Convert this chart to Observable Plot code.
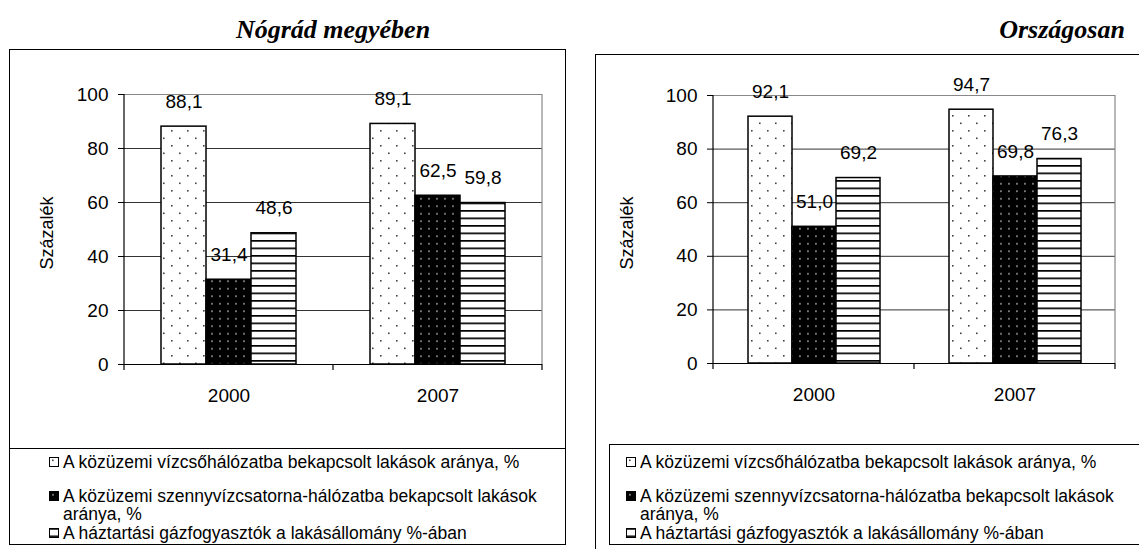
<!DOCTYPE html>
<html>
<head>
<meta charset="utf-8">
<script src="https://cdn.jsdelivr.net/npm/d3@7"></script>
<script src="https://cdn.jsdelivr.net/npm/@observablehq/plot@0.6"></script>
<style>
  body { margin: 0; background: #fff; }
  #root { position: relative; width: 1139px; height: 549px; overflow: hidden; font-family: "Liberation Sans", Arial, sans-serif; color: #000; }
  .title { position: absolute; font-family: "Liberation Serif", "Times New Roman", serif; font-weight: bold; font-style: italic; font-size: 26px; line-height: 26px; transform: translateX(-50%); white-space: nowrap; }
  .box { position: absolute; border: 1px solid #000; box-sizing: border-box; }
  .ylab { position: absolute; font-size: 18px; line-height: 18px; transform: translate(-50%, -50%) rotate(-90deg); white-space: nowrap; }
  .chart { position: absolute; top: 0; }
  .legend { position: absolute; overflow: hidden; }
  .item { position: absolute; font-size: 17.5px; line-height: 18px; }
  .item svg { position: absolute; left: -14px; top: 4px; }
</style>
</head>
<body>
<svg width="0" height="0" style="position:absolute">
  <defs>
    <pattern id="p0" patternUnits="userSpaceOnUse" width="16" height="15">
      <rect width="16" height="15" fill="#fff"/>
      <rect x="3" y="2.5" width="1.6" height="1.6" fill="#444"/>
      <rect x="11" y="10" width="1.6" height="1.6" fill="#444"/>
    </pattern>
    <pattern id="p1" patternUnits="userSpaceOnUse" width="8" height="7.5">
      <rect width="8" height="7.5" fill="#000"/>
      <rect x="3.2" y="3" width="1.5" height="1.5" fill="#bbb"/>
    </pattern>
    <pattern id="p2" patternUnits="userSpaceOnUse" width="10" height="7.5">
      <rect width="10" height="7.5" fill="#fff"/>
      <rect x="0" y="0" width="10" height="1.7" fill="#000"/>
    </pattern>
  </defs>
</svg>
<div id="root"></div>
<script>
// ---------- data ----------
const years = ["2000", "2007"];
const series = [
  "A közüzemi vízcsőhálózatba bekapcsolt lakások aránya, %",
  "A közüzemi szennyvízcsatorna-hálózatba bekapcsolt lakások aránya, %",
  "A háztartási gázfogyasztók a lakásállomány %-ában"
];
const nogradWater = [88.1, 89.1];
const nogradSewer = [31.4, 62.5];
const nogradGas   = [48.6, 59.8];
const orszagWater = [92.1, 94.7];
const orszagSewer = [51.0, 69.8];
const orszagGas   = [69.2, 76.3];
const yTicks = [0, 20, 40, 60, 80, 100];
const titles = ["Nógrád megyében", "Országosan"];
const yLabel = "Százalék";
const patterns = ["url(#p0)", "url(#p1)", "url(#p2)"];

function rowsFrom(lists) {
  const rows = [];
  years.forEach((yr, i) => series.forEach((s, j) => rows.push({year: yr, series: s, value: lists[j][i]})));
  return rows;
}
const fmt = v => v.toFixed(1).replace(".", ",");

function makeChart(rows, o) {
  const chart = Plot.plot({
    width: o.width, height: o.height,
    marginLeft: o.ml, marginRight: o.mr, marginTop: o.mt, marginBottom: o.mb,
    style: {fontFamily: "Liberation Sans, Arial, sans-serif", fontSize: "19px", color: "#000", background: "transparent", overflow: "visible"},
    facet: {data: rows, x: "year"},
    fx: {domain: years, padding: 0, label: null, axis: "bottom", tickSize: 0, tickPadding: 24},
    x: {domain: series, paddingInner: 0, paddingOuter: 0.772, axis: null},
    y: {domain: [0, 100], ticks: yTicks, tickSize: 6, tickPadding: 10, label: null},
    color: {domain: series, range: patterns},
    marks: [
      Plot.ruleY(yTicks.filter(t => t > 0 && t < 100), {stroke: "#333", strokeWidth: 1}),
      Plot.ruleY([d3.max(yTicks)], {stroke: "#888", strokeWidth: 1}),
      Plot.barY(rows, {x: "series", y: "value", fill: "series", stroke: "#000", strokeWidth: 1.5}),
      Plot.ruleY([0], {stroke: "#000", strokeWidth: 1.2}),
      Plot.text(rows, {x: "series", y: "value", text: d => fmt(d.value), dy: -25, fontSize: 19, fill: "#000"})
    ]
  });
  // axis line, category boundary ticks and plot-area right border from the plot's own scales
  const fxs = chart.scale("fx"), ys = chart.scale("y");
  const y = d3.scaleLinear(ys.domain, ys.range);
  const band = d3.scaleBand(fxs.domain, fxs.range).padding(0);
  const [r0, r1] = band.range();
  const g = d3.select(chart).append("g").attr("stroke", "#000").attr("stroke-width", 1.2);
  g.append("line").attr("x1", r0).attr("x2", r0).attr("y1", y(100)).attr("y2", y(0) + 6);
  years.forEach(yr => {
    const xb = band(yr) + band.bandwidth();
    g.append("line").attr("x1", xb).attr("x2", xb).attr("y1", y(0)).attr("y2", y(0) + 6);
  });
  g.append("line").attr("stroke", "#888").attr("x1", r1).attr("x2", r1).attr("y1", y(100)).attr("y2", y(0));
  return chart;
}

const root = document.getElementById("root");
function add(html) { root.insertAdjacentHTML("beforeend", html); }

const panels = [
  {rows: rowsFrom([nogradWater, nogradSewer, nogradGas]), left: 0, width: 580, ml: 124, mr: 38, mt: 94, mb: 56,
   title: titles[0], titleX: 333, ylabX: 47,
   box: {l: 9, t: 49, w: 557, h: 496}, legend: {l: 9, t: 448, w: 557, h: 97}, textX: 62},
  {rows: rowsFrom([orszagWater, orszagSewer, orszagGas]), left: 580, width: 559, ml: 133, mr: 24, mt: 95, mb: 57,
   title: titles[1], titleX: 1062, ylabX: 627,
   box: {l: 595, t: 54, w: 600, h: 520}, legend: {l: 609, t: 444, w: 600, h: 101}, textX: 639}
];

panels.forEach(p => {
  const div = document.createElement("div");
  div.className = "chart";
  div.style.left = p.left + "px";
  div.appendChild(makeChart(p.rows, {width: p.width, height: 420, ml: p.ml, mr: p.mr, mt: p.mt, mb: p.mb}));
  root.appendChild(div);
  add(`<div class="title" style="left:${p.titleX}px;top:17px">${p.title}</div>`);
  add(`<div class="ylab" style="left:${p.ylabX}px;top:233px">${yLabel}</div>`);
  add(`<div class="box" style="left:${p.box.l}px;top:${p.box.t}px;width:${p.box.w}px;height:${p.box.h}px"></div>`);
  const lg = p.legend;
  const tops = [452, 486, 523];
  let items = "";
  series.forEach((s, i) => {
    items += `<div class="item" style="left:${p.textX - lg.l}px;top:${tops[i] - lg.t}px;width:500px">` +
      `<svg width="10" height="10"><rect x="0.5" y="0.5" width="9" height="9" fill="${patterns[i]}" stroke="#000" stroke-width="1"/></svg>${s}</div>`;
  });
  add(`<div class="legend box" style="left:${lg.l}px;top:${lg.t}px;width:${lg.w}px;height:${lg.h}px">${items}</div>`);
});
</script>
</body>
</html>
